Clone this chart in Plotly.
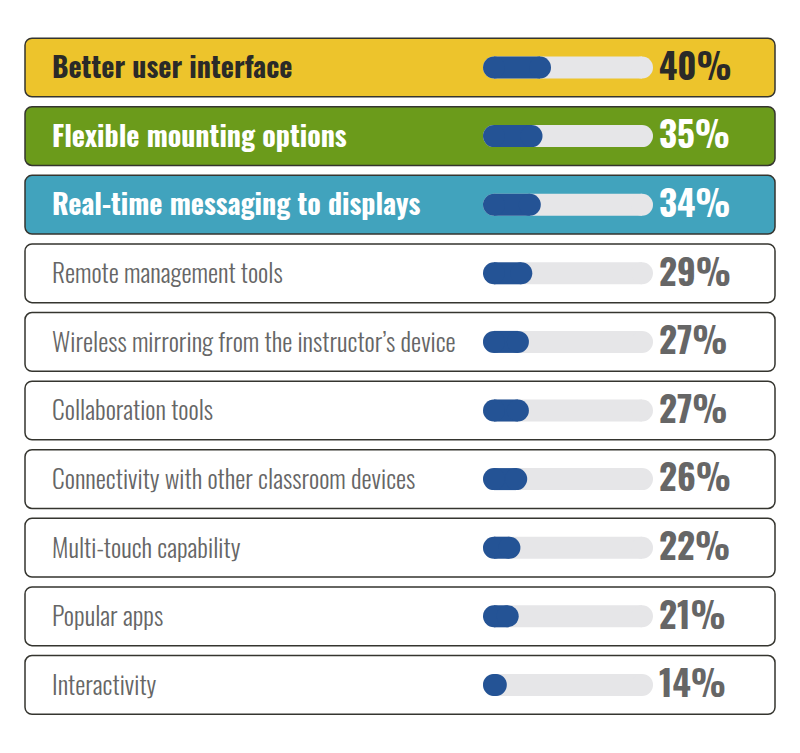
import plotly.graph_objects as go

categories = [
    "Better user interface",
    "Flexible mounting options",
    "Real-time messaging to displays",
    "Remote management tools",
    "Wireless mirroring from the instructor’s device",
    "Collaboration tools",
    "Connectivity with other classroom devices",
    "Multi-touch capability",
    "Popular apps",
    "Interactivity",
]
values = [40, 35, 34, 29, 27, 27, 26, 22, 21, 14]
box_colors = ["#EDC42C", "#6B9B1B", "#41A3BD"] + ["#FFFFFF"] * 7
label_colors = ["#2A2A28", "#FFFFFF", "#FFFFFF"] + ["#666666"] * 7
highlight = [True, True, True] + [False] * 7

FONT = "Oswald"
W, H = 800, 753
row0, step = 67.5, 68.6
y_range = [(H - row0) / step, -row0 / step]
text_shift = 3.5 / step                # text sits a little below the row centre
y_range_text = [y_range[0] - text_shift, y_range[1] - text_shift]
pill_shift = -1.0 / step
y_range_pill = [y_range[0] - pill_shift, y_range[1] - pill_shift]

TRACK_X0, TRACK_X1 = 483, 653          # pixel extent of the 0-100 % scale
PILL_H = 22                            # pill thickness, px
r = (PILL_H / 2) / (TRACK_X1 - TRACK_X0) * 100   # pill end radius in % units

n = len(categories)
fig = go.Figure()

# row boxes (pixel-width axis x)
fig.add_trace(go.Bar(
    y=categories, x=[750] * n, base=[25] * n,
    orientation="h", width=0.855,
    marker=dict(color=box_colors, line=dict(color="#35352F", width=1.5), cornerradius=7),
    xaxis="x", yaxis="y", hoverinfo="skip", showlegend=False,
))


def add_pill(starts, ends, color, xa):
    starts_c = [s + r for s in starts]
    ends_c = [max(e, s + 2 * r) - r for s, e in zip(starts, ends)]
    fig.add_trace(go.Bar(
        y=categories, base=starts_c, x=[e - s for s, e in zip(starts_c, ends_c)],
        orientation="h", width=PILL_H / step,
        marker=dict(color=color, line=dict(width=0)),
        xaxis=xa, yaxis="y", hoverinfo="skip", showlegend=False,
    ))
    fig.add_trace(go.Scatter(
        y=categories + categories, x=starts_c + ends_c, mode="markers",
        marker=dict(color=color, size=PILL_H, line=dict(width=0)),
        xaxis=xa, yaxis="y", hoverinfo="skip", showlegend=False,
    ))


add_pill([0] * n, [100] * n, "#E6E6E8", "x2")
add_pill([0] * n, values, "#245395", "x3")

# category labels
for hl in (True, False):
    idx = [i for i in range(n) if highlight[i] == hl]
    fig.add_trace(go.Scatter(
        y=[categories[i] for i in idx], x=[52] * len(idx), mode="text",
        text=[categories[i] for i in idx], textposition="middle right",
        textfont=dict(family=FONT, size=28 if hl else 25.5,
                      color=[label_colors[i] for i in idx],
                      weight=700 if hl else 300),
        xaxis="x4", yaxis="y2", hoverinfo="skip", showlegend=False,
    ))
# percent labels
fig.add_trace(go.Scatter(
    y=categories, x=[659] * n, mode="text",
    text=[f"{v}%" for v in values], textposition="middle right",
    textfont=dict(family=FONT, size=35, color=label_colors, weight=700),
    xaxis="x4", yaxis="y2", hoverinfo="skip", showlegend=False,
))

pill_axis = dict(range=[0, 100], domain=[TRACK_X0 / W, TRACK_X1 / W], anchor="y",
                 visible=False, fixedrange=True)
fig.update_layout(
    width=W, height=H, margin=dict(l=0, r=0, t=0, b=0),
    paper_bgcolor="white", plot_bgcolor="rgba(0,0,0,0)",
    barmode="overlay",
    xaxis=dict(range=[0, W], domain=[0, 1], visible=False, fixedrange=True),
    xaxis2=pill_axis,
    xaxis3=pill_axis,
    xaxis4=dict(range=[0, W], domain=[0, 1], anchor="y2", visible=False, fixedrange=True),
    yaxis=dict(type="category", categoryarray=categories, categoryorder="array",
               range=y_range, visible=False, fixedrange=True),
    yaxis2=dict(type="category", categoryarray=categories, categoryorder="array",
                range=y_range_text, domain=[0, 1], anchor="x4",
                visible=False, fixedrange=True),
)
fig.write_html("out.html", config={"displayModeBar": False},
               post_script="document.body.style.margin='0';")
